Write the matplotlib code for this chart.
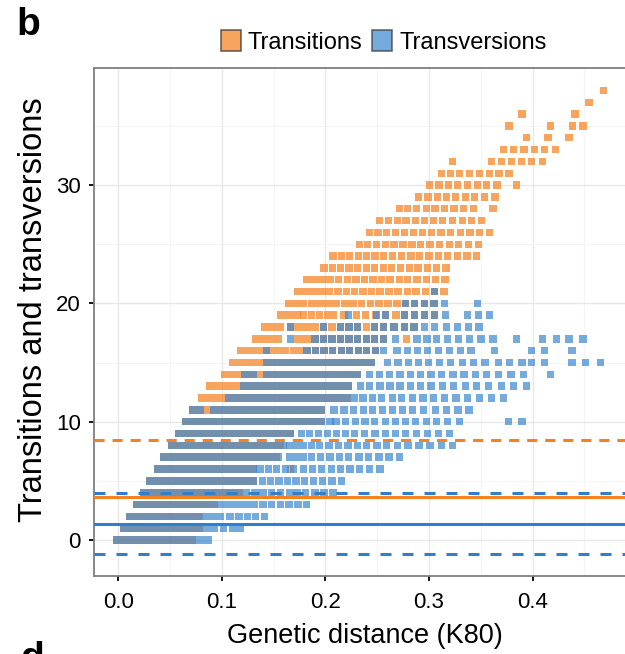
import matplotlib.pyplot as plt
from matplotlib.patches import Patch

plt.rcParams['font.family'] = ['Liberation Sans', 'DejaVu Sans']

# Transitions (orange): separate squares per count level, plus dense runs (level, start, end)
ts_levels = [38, 37, 36, 35, 34, 33, 32, 31, 30, 29, 28, 27, 26, 25, 24, 23, 22, 21, 20, 19, 18, 17, 16, 6]
ts_x = [
    [.4686],
    [.4545],
    [.3898, .4409],
    [.3772, .4175, .4383, .4488],
    [.3944, .4149, .4353],
    [.3719, .3815, .3917, .4020, .4119, .4221],
    [.3224, .3604, .3700, .3795, .3894, .3990, .4096],
    [.3119, .3205, .3297, .3389, .3485, .3581, .3677, .3772],
    [.3007, .3096, .3185, .3277, .3370, .3465, .3558, .3657, .3848],
    [.2901, .2990, .3079, .3168, .3257, .3350, .3442, .3538, .3637],
    [.2713, .2792, .2881, .2974, .3059, .3149, .3241, .3330, .3429, .3617],
    [.2521, .2607, .2693, .2779, .2868, .2954, .3043, .3129, .3224, .3320, .3413, .3508],
    [.2426, .2508, .2591, .2677, .2762, .2848, .2937, .3026, .3116, .3205, .3304, .3396, .3485, .3584],
    [.2330, .2409, .2492, .2578, .2663, .2749, .2835, .2921, .3010, .3099, .3195, .3284, .3380, .3479],
    [.2073, .2155, .2234, .2317, .2396, .2479, .2564, .2650, .2736, .2825, .2911, .3000, .3089, .3182,
     .3274, .3366, .3462],
    [.1987, .2066, .2145, .2228, .2307, .2393, .2475, .2558, .2640, .2723, .2809, .2894, .2987, .3076, .3165],
    [.2129, .2211, .2294, .2376, .2459, .2541, .2624, .2713, .2795, .2884, .2974, .3063, .3155],
    [.2122, .2205, .2284, .2363, .2442, .2528, .2614, .2700, .2789, .2875, .2964, .3053, .3145],
    [.1871, .1947, .2188, .2267, .2350, .2436, .2518, .2604, .2690, .2775, .2857, .2954, .3048],
    [.1788, .1868, .1942, .2180, .2303, .2384, .2480, .2577, .2681, .2763, .2860, .2957, .3053],
    [.1660, .1983, .2063, .2145, .2228, .2310, .2393, .2475, .2561, .2663, .2766, .2855],
    [.1898, .1980, .2063, .2145, .2228, .2310, .2393, .2475, .2558, .2786],
    [.1430, .1690, .1756, .1822, .1904, .1987, .2069, .2152, .2234, .2317, .2399, .2482],
    [.1666],
]
ts_runs = [
    (22, .1779, .2083), (21, .1693, .2073), (20, .1607, .1818), (20, .1990, .2145),
    (19, .1533, .1760), (19, .1987, .2110), (18, .1373, .1601), (18, .1693, .1937),
    (17, .1287, .1578), (17, .1693, .1858), (16, .1142, .1393), (16, .1469, .1644),
    (15, .1070, .2475), (14, .0992, .2343), (13, .0847, .2261), (12, .0770, .2244),
    (11, .0683, .1997), (10, .0615, .1997), (9, .0545, .1700), (8, .0479, .1600),
    (7, .0406, .1560), (6, .0340, .1337), (5, .0271, .1337), (4, .0208, .1208),
    (3, .0142, .0966), (2, .0076, .0818), (1, .0017, .0818), (0, -.0050, .0749),
]

# Transversions (blue)
tv_levels = [21, 20, 19, 18, 17, 16, 15, 14, 13, 12, 11, 10, 9, 8, 7, 6, 5, 4, 3, 2, 1]
tv_x = [
    [.3050],
    [.2775, .2857, .2954, .3048, .3150, .3466],
    [.2222, .2493, .2577, .2763, .2860, .2957, .3053, .3157, .3369, .3478, .3585],
    [.1660, .1983, .2145, .2228, .2310, .2475, .2561, .2663, .2766, .2855, .2954, .3053, .3168, .3277,
     .3383, .3482],
    [.1660, .1898, .1980, .2063, .2145, .2228, .2310, .2393, .2475, .2558, .2673, .2883, .2980, .3076,
     .3179, .3285, .3391, .3501, .3617, .3848, .4099, .4228, .4353, .4488],
    [.1430, .1822, .1904, .1987, .2069, .2152, .2234, .2317, .2399, .2482, .2564, .2690, .2789, .2888,
     .2987, .3092, .3201, .3307, .3406, .3634, .3993, .4116, .4380],
    [.2597, .2700, .2799, .2898, .2997, .3102, .3211, .3320, .3432, .3541, .3668, .3776, .3898, .3990,
     .4112, .4380, .4512, .4653],
    [.2422, .2521, .2617, .2719, .2818, .2917, .3020, .3122, .3231, .3337, .3446, .3558, .3673, .3792,
     .3914, .4172],
    [.2337, .2429, .2528, .2624, .2719, .2818, .2917, .3020, .3129, .3238, .3353, .3462, .3578, .3703,
     .3815, .3941],
    [.2277, .2363, .2452, .2541, .2644, .2736, .2842, .2941, .3043, .3152, .3261, .3370, .3485, .3607, .3716],
    [.2083, .2178, .2271, .2366, .2455, .2551, .2647, .2743, .2842, .2950, .3066, .3172, .3281, .3386],
    [.2043, .2101, .2193, .2290, .2381, .2477, .2580, .2677, .2773, .2870, .2973, .3072, .3176, .3297,
     .3769, .3898],
    [.1766, .1848, .1931, .2017, .2109, .2195, .2284, .2376, .2479, .2578, .2677, .2776, .2881, .2983,
     .3092, .3201],
    [.1655, .1720, .1788, .1864, .1946, .2034, .2126, .2217, .2306, .2400, .2497, .2590, .2693, .2797,
     .2903, .3009, .3121, .3226],
    [.1650, .1720, .1790, .1864, .1952, .2043, .2135, .2226, .2323, .2419, .2516, .2613, .2715],
    [.1369, .1449, .1530, .1611, .1691, .1788, .1872, .1961, .2057, .2145, .2236, .2332, .2427, .2526],
    [.1390, .1469, .1551, .1634, .1716, .1799, .1888, .1974, .2063, .2155],
    [.1238, .1320, .1396, .1479, .1564, .1650, .1726, .1809, .1898, .1987, .2073],
    [.1396, .1479, .1564, .1647, .1736, .1818],
    [.1079, .1165, .1244, .1323, .1409],
    [.1017, .1099, .1175],
]
tv_runs = [
    (15, .1393, .2475), (14, .1182, .1343), (14, .1400, .2343), (13, .1176, .2261),
    (12, .1031, .2244), (11, .0683, .0828), (11, .0889, .1997), (10, .0615, .1997),
    (9, .0545, .1700), (8, .0479, .1627), (7, .0406, .1580), (6, .0340, .1337),
    (5, .0271, .1337), (4, .0208, .1208), (3, .0142, .1353), (2, .0076, .1023),
    (1, .0017, .0967), (0, -.0050, .0908),
]

# summary lines
ts_mean, ts_upper = 3.63, 8.45
tv_mean, tv_lower, tv_upper = 1.35, -1.21, 3.97

ORANGE = '#F58220'
BLUE = '#2F80CC'
BLUE_PT = '#3A86CF'
SQ_W = 0.0070
SQ_H = 0.63

fig = plt.figure(figsize=(6.25, 6.54), dpi=100)
ax = fig.add_axes([0.1504, 0.1193, 0.8566, 0.7768])


def draw_series(levels, xs, runs, color, alpha, z):
    for lev, row in zip(levels, xs):
        ax.barh([lev] * len(row), SQ_W, left=[x - SQ_W / 2 for x in row], height=SQ_H,
                color=color, alpha=alpha, lw=0, zorder=z)
    for lev, a, b in runs:
        ax.barh(lev, b - a, left=a, height=SQ_H, color=color, alpha=alpha, lw=0, zorder=z)


draw_series(ts_levels, ts_x, ts_runs, ORANGE, 0.72, 2)
draw_series(tv_levels, tv_x, tv_runs, BLUE_PT, 0.70, 3)

ax.axhline(ts_mean, color=ORANGE, lw=2.2, zorder=4)
ax.axhline(ts_upper, color=ORANGE, lw=2.2, dashes=(3.3, 2.6), zorder=4)
ax.axhline(tv_mean, color=BLUE, lw=2.2, zorder=4)
ax.axhline(tv_upper, color=BLUE, lw=2.2, dashes=(3.6, 3.6), zorder=4)
ax.axhline(tv_lower, color=BLUE, lw=2.2, dashes=(3.6, 3.6), zorder=4)

ax.set_xlim(-0.0235, 0.4935)
ax.set_ylim(-3.04, 39.9)
ax.set_xticks([0, 0.1, 0.2, 0.3, 0.4])
ax.set_xticklabels(['0.0', '0.1', '0.2', '0.3', '0.4'])
ax.set_xticks([0.05, 0.15, 0.25, 0.35, 0.45], minor=True)
ax.set_yticks([0, 10, 20, 30])
ax.set_yticks([5, 15, 25, 35], minor=True)
ax.set_axisbelow(True)
ax.grid(which='major', color='#E8E8E8', lw=1.0)
ax.grid(which='minor', color='#F5F5F5', lw=0.8)
ax.tick_params(which='minor', length=0)
ax.tick_params(which='major', length=3.5, width=1.3, color='black', labelsize=16, labelcolor='black')
ax.tick_params(axis='x', pad=8)
ax.tick_params(axis='y', pad=6)
for s in ax.spines.values():
    s.set_color('#7F7F7F')
    s.set_linewidth(1.3)

fig.text(0.584, 0.028, 'Genetic distance (K80)', ha='center', va='center', fontsize=19.5)
fig.text(0.053, 0.526, 'Transitions and transversions', ha='center', va='center',
         rotation=90, fontsize=23.5)
fig.text(0.027, 0.962, 'b', ha='left', va='center', fontsize=28, fontweight='bold')
fig.text(0.032, -0.023, 'd', ha='left', va='baseline', fontsize=28, fontweight='bold')

handles = [Patch(facecolor=ORANGE, alpha=0.72, edgecolor='#333333', lw=1.2),
           Patch(facecolor=BLUE_PT, alpha=0.70, edgecolor='#333333', lw=1.2)]
fig.legend(handles, ['Transitions', 'Transversions'], loc='center', bbox_to_anchor=(0.614, 0.936),
           ncol=2, frameon=False, fontsize=17, handlelength=0.85, handleheight=1.0,
           handletextpad=0.3, columnspacing=0.4)

fig.savefig('out.png', dpi=100)
